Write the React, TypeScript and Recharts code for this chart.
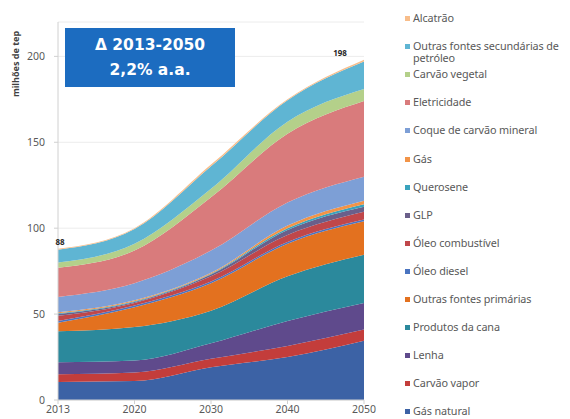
import { AreaChart, Area, XAxis, YAxis, CartesianGrid, LabelList, Label } from "recharts";

const years = ["2013", "2020", "2030", "2040", "2050"];

// consumo final por fonte, milhões de tep
const gasNatural = [10.5, 11, 19, 25, 34.5];
const carvaoVapor = [4.5, 5, 5, 6.5, 6.5];
const lenha = [7, 7, 9, 14.5, 15.5];
const produtosCana = [18, 19.5, 19, 26, 28];
const outrasPrimarias = [5, 11.5, 16, 19, 19.5];
const oleoDiesel = [1, 1, 1, 1, 1];
const oleoCombustivel = [3, 1.5, 3, 4, 4.5];
const glp = [1, 0.5, 1, 3, 3];
const querosene = [0.5, 0.5, 0.5, 1, 1.5];
const gas = [0.5, 0.5, 0.5, 1.5, 2];
const coque = [9, 10, 13, 13.5, 14];
const eletricidade = [17, 19, 31, 40, 44];
const carvaoVegetal = [3, 4, 5, 7, 7];
const outrasSecundarias = [7.5, 8.5, 13, 12.5, 16];
const alcatrao = [0.5, 0.5, 1, 0.5, 1];

const yTicks = [0, 50, 100, 150, 200];

// bottom of the stack first
const series = [
  { key: "gasNatural", name: "Gás natural", values: gasNatural, color: "#3c62a5" },
  { key: "carvaoVapor", name: "Carvão vapor", values: carvaoVapor, color: "#c33d3b" },
  { key: "lenha", name: "Lenha", values: lenha, color: "#5f4a8c" },
  { key: "produtosCana", name: "Produtos da cana", values: produtosCana, color: "#2b899c" },
  { key: "outrasPrimarias", name: "Outras fontes primárias", values: outrasPrimarias, color: "#e3711f" },
  { key: "oleoDiesel", name: "Óleo diesel", values: oleoDiesel, color: "#4a74c0" },
  { key: "oleoCombustivel", name: "Óleo combustível", values: oleoCombustivel, color: "#c0474a" },
  { key: "glp", name: "GLP", values: glp, color: "#6a5f8a" },
  { key: "querosene", name: "Querosene", values: querosene, color: "#3aa3bd" },
  { key: "gas", name: "Gás", values: gas, color: "#f29448" },
  { key: "coque", name: "Coque de carvão mineral", values: coque, color: "#7d9fd6" },
  { key: "eletricidade", name: "Eletricidade", values: eletricidade, color: "#d97b7c" },
  { key: "carvaoVegetal", name: "Carvão vegetal", values: carvaoVegetal, color: "#b4d08a" },
  { key: "outrasSecundarias", name: "Outras fontes secundárias de petróleo", values: outrasSecundarias, color: "#5fb5d3" },
  { key: "alcatrao", name: "Alcatrão", values: alcatrao, color: "#f8bd8a" },
];

const data = years.map((year, i) => {
  const row: Record<string, string | number> = { year };
  series.forEach((s) => {
    row[s.key] = s.values[i];
  });
  return row;
});

const totals = years.map((_, i) => series.reduce((t, s) => t + s.values[i], 0));

const textColor = "#595959";

function TotalLabel(props: any) {
  const { x, y, index } = props;
  if (index !== 0 && index !== years.length - 1) return null;
  const first = index === 0;
  return (
    <text
      x={first ? x + 2 : x - 24}
      y={y - 4}
      textAnchor="middle"
      fontFamily="Noto Sans"
      fontWeight="bold"
      fontSize={8}
      fill="#262626">
      {Math.round(totals[index])}
    </text>
  );
}

function AxisTitle() {
  return (
    <text
      x={7}
      y={56}
      transform="rotate(-90 7 56)"
      textAnchor="middle"
      dominantBaseline="central"
      fontFamily="Noto Sans"
      fontWeight="bold"
      fontSize={9}
      fill="#404040">
      milhões de tep
    </text>
  );
}

function SideLegend() {
  const items = [...series].reverse();
  return (
    <div style={{ position: "absolute", left: 397, top: 0, width: 165 }}>
      {items.map((s, i) => {
        const lines = s.name.replace(" petróleo", "\npetróleo");
        return (
          <div
            key={s.key}
            style={{
              position: "absolute",
              top: 4 + i * 28.1,
              left: 0,
              display: "flex",
              alignItems: "flex-start",
            }}>
            <div
              style={{
                width: 5,
                height: 5,
                marginTop: 4,
                backgroundColor: s.color,
              }}
            />
            <div
              style={{
                marginLeft: 3,
                fontFamily: "Noto Sans",
                fontSize: 10.8,
                letterSpacing: -0.1,
                lineHeight: "12px",
                color: textColor,
                whiteSpace: "pre",
              }}>
              {lines}
            </div>
          </div>
        );
      })}
    </div>
  );
}

export default function App() {
  return (
    <div style={{ position: "relative", width: 562, height: 411 }}>
      <AreaChart
        width={562}
        height={411}
        data={data}
        margin={{ top: 14, right: 206, bottom: 0, left: 0 }}>
        <CartesianGrid vertical={false} stroke="#ececec" />
        <XAxis
          dataKey="year"
          height={19}
          stroke="#d0d0d0"
          tickSize={4}
          tickMargin={2}
          tick={{ fill: textColor, fontSize: 10.5, fontFamily: "Noto Sans" }}
        />
        <YAxis
          width={50}
          domain={[0, 220]}
          ticks={yTicks}
          stroke="#d0d0d0"
          tickSize={4}
          tickMargin={9}
          tick={{ fill: textColor, fontSize: 10.5, fontFamily: "Noto Sans" }}>
          <Label content={<AxisTitle />} />
        </YAxis>
        {series.map((s, i) => (
          <Area
            key={s.key}
            dataKey={s.key}
            name={s.name}
            stackId="1"
            type="monotone"
            stroke="none"
            fill={s.color}
            fillOpacity={1}
            isAnimationActive={false}>
            {i === series.length - 1 && (
              <LabelList dataKey={s.key} content={<TotalLabel />} />
            )}
          </Area>
        ))}
      </AreaChart>
      <div
        style={{
          position: "absolute",
          left: 57,
          top: 20,
          width: 170,
          height: 59,
          backgroundColor: "#1c6cc0",
          color: "#ffffff",
          fontFamily: "DejaVu Sans",
          fontWeight: "bold",
          fontSize: 15.5,
          lineHeight: "25px",
          textAlign: "center",
          paddingTop: 5,
          boxSizing: "border-box",
        }}>
        Δ 2013-2050
        <br />
        2,2% a.a.
      </div>
      <SideLegend />
    </div>
  );
}
